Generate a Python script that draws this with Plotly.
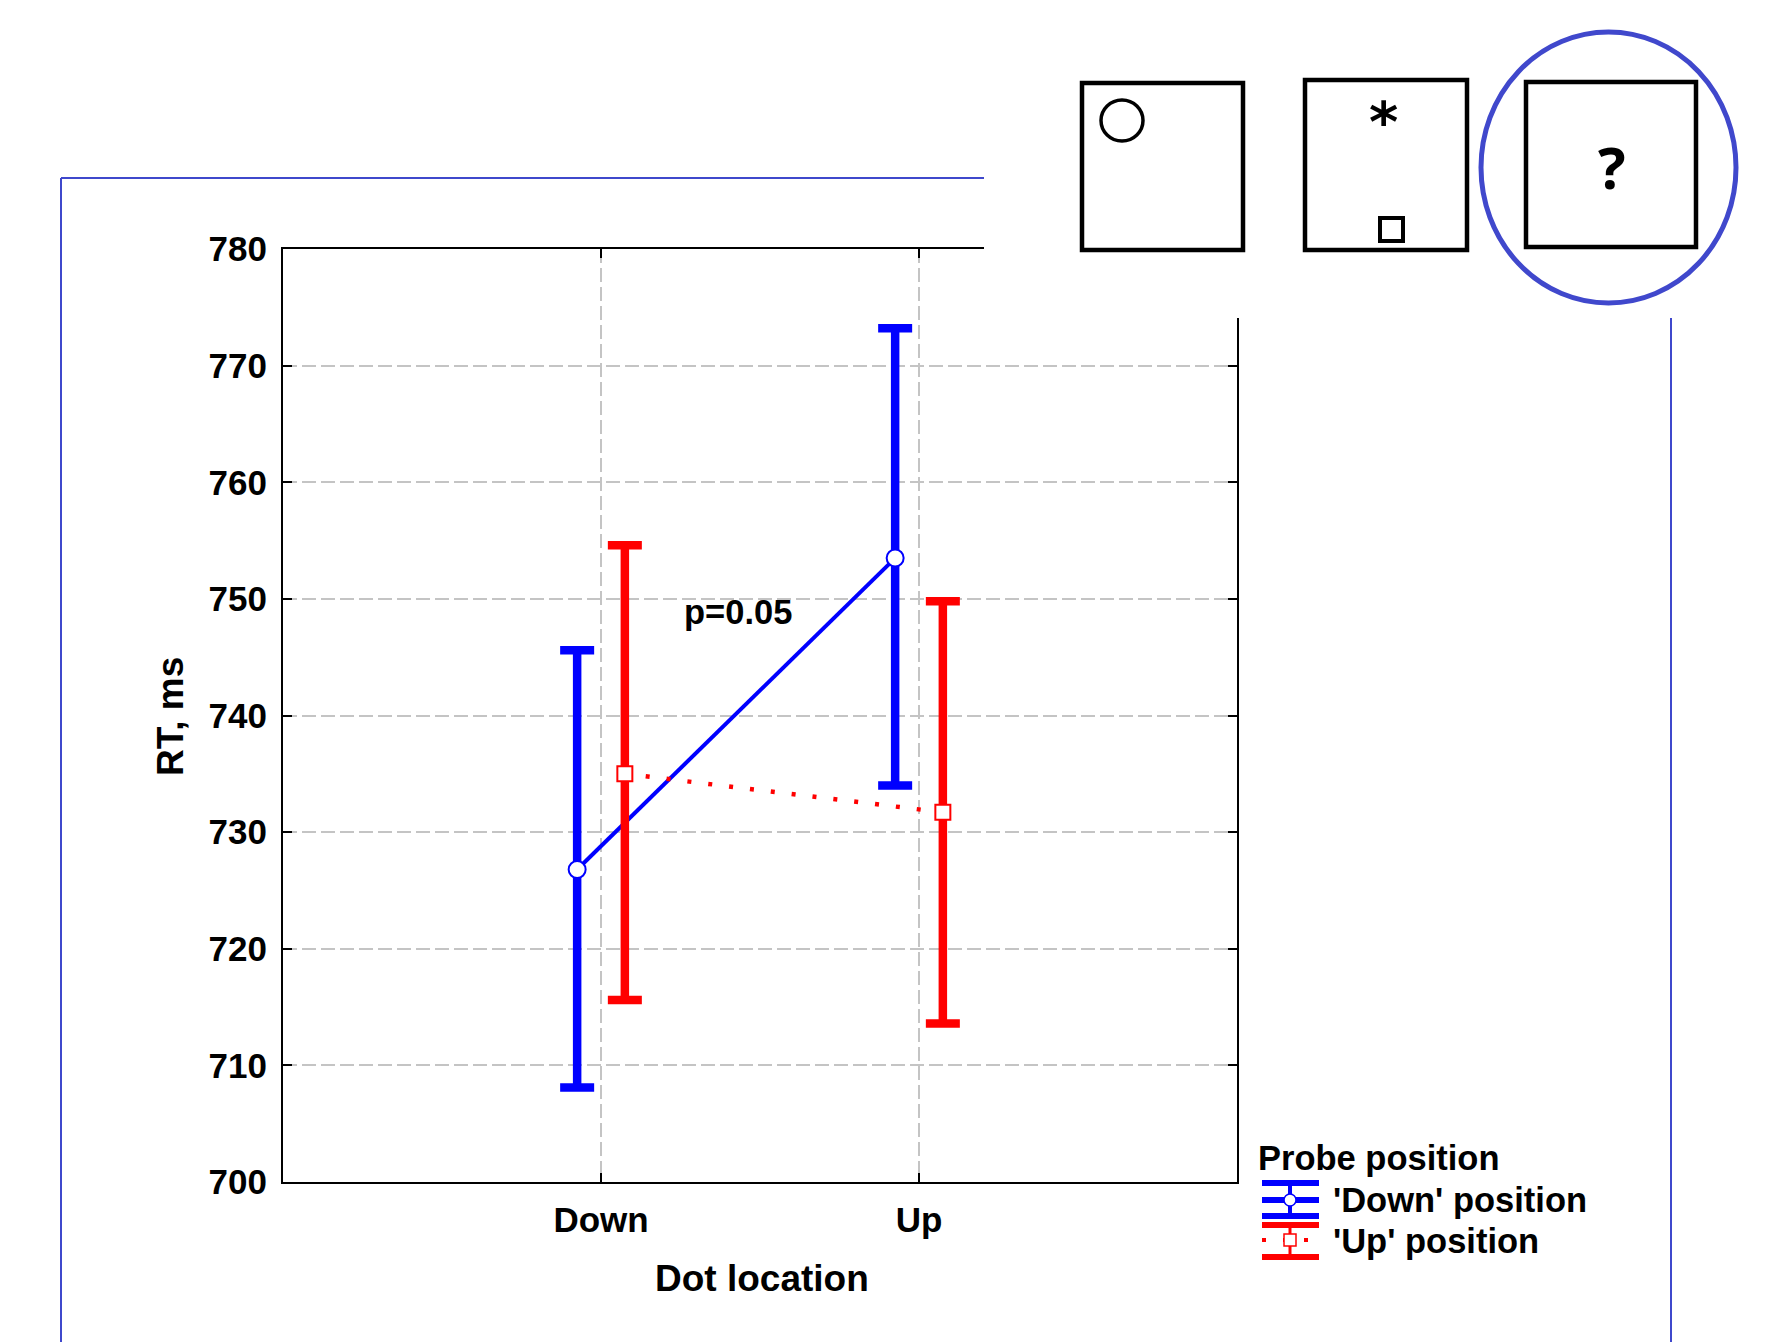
import plotly.graph_objects as go

# ---------------- data ----------------
categories = ["Down", "Up"]
cat_pos = [0, 1]
y_ticks = [700, 710, 720, 730, 740, 750, 760, 770, 780]

down_mean = [726.8, 753.5]
down_upper = [745.6, 773.2]
down_lower = [708.1, 734.0]

up_mean = [735.0, 731.7]
up_upper = [754.6, 749.8]
up_lower = [715.6, 713.6]

series_names = ["'Down' position", "'Up' position"]
legend_title = "Probe position"
x_title = "Dot location"
y_title = "RT, ms"
p_label = "p=0.05"

# ---------------- layout geometry ----------------
W, H = 1781, 1342
OFF = 8  # page body margin
ML, MT = 283 - OFF, 249 - OFF
MR = W - (1237 - OFF)
MB = H - (1182 - OFF)
PW = W - ML - MR
PH = H - MT - MB


def PX(x):
    return (x - OFF - ML) / PW


def PY(y):
    return (H - MB - (y - OFF)) / PH


BLUE = "#0000FF"
RED = "#FF0000"
FRAME = "#3F48CC"
FONT = "Liberation Sans"
offset = 0.075

fig = go.Figure()

fig.add_trace(go.Scatter(
    x=[c - offset for c in cat_pos], y=down_mean, mode="lines+markers",
    name=series_names[0],
    line=dict(color=BLUE, width=4),
    marker=dict(symbol="circle", size=17, color="white", line=dict(color=BLUE, width=2)),
    error_y=dict(type="data", symmetric=False,
                 array=[u - m for u, m in zip(down_upper, down_mean)],
                 arrayminus=[m - l for m, l in zip(down_mean, down_lower)],
                 color=BLUE, thickness=8.5, width=17),
    showlegend=False,
))
fig.add_trace(go.Scatter(
    x=[c + offset for c in cat_pos], y=up_mean, mode="lines+markers",
    name=series_names[1],
    line=dict(color=RED, width=4.5, dash="4px,17px"),
    marker=dict(symbol="square", size=15, color="white", line=dict(color=RED, width=2)),
    error_y=dict(type="data", symmetric=False,
                 array=[u - m for u, m in zip(up_upper, up_mean)],
                 arrayminus=[m - l for m, l in zip(up_mean, up_lower)],
                 color=RED, thickness=8.5, width=17),
    showlegend=False,
))

axis_font = dict(family=FONT, size=35, color="black", weight="bold")
text_font = dict(family=FONT, size=34.5, color="black", weight="bold")
title_font = dict(family=FONT, size=37, color="black", weight="bold")

fig.update_layout(
    width=W, height=H,
    margin=dict(l=ML, r=MR, t=MT, b=MB),
    paper_bgcolor="white", plot_bgcolor="white",
    showlegend=False,
    xaxis=dict(
        range=[-1, 2], tickmode="array", tickvals=cat_pos, ticktext=categories,
        showline=True, linecolor="black", linewidth=2, mirror="ticks",
        ticks="inside", ticklen=9, tickwidth=2, tickcolor="black",
        showgrid=True, gridcolor="#C4C4C4", gridwidth=1.5, griddash="14px,5px",
        zeroline=False, tickfont=axis_font, ticklabelstandoff=6,
    ),
    yaxis=dict(
        range=[700, 780], tickmode="array", tickvals=y_ticks,
        showline=True, linecolor="black", linewidth=2, mirror="ticks",
        ticks="inside", ticklen=9, tickwidth=2, tickcolor="black",
        showgrid=True, gridcolor="#C4C4C4", gridwidth=1.5, griddash="14px,5px",
        zeroline=False, tickfont=axis_font, ticklabelstandoff=7,
    ),
)

shapes = []
ann = []

# white cover over the top-right of the chart (inset panel)
shapes.append(dict(type="rect", xref="paper", yref="paper",
                   x0=PX(984), x1=PX(W + 20), y0=PY(318), y1=PY(-20),
                   fillcolor="white", line=dict(width=0), layer="above"))

# blue frame
for (x0, y0, x1, y1) in [(61, 178, 984, 178), (61, 178, 61, H + 10), (1671, 318, 1671, H + 10)]:
    shapes.append(dict(type="line", xref="paper", yref="paper",
                       x0=PX(x0), y0=PY(y0), x1=PX(x1), y1=PY(y1),
                       line=dict(color=FRAME, width=2), layer="above"))

# inset boxes
for (x0, y0, x1, y1) in [(1082, 83, 1243, 250), (1305, 80, 1467, 250), (1526, 82, 1696, 247)]:
    shapes.append(dict(type="rect", xref="paper", yref="paper",
                       x0=PX(x0), y0=PY(y0), x1=PX(x1), y1=PY(y1),
                       fillcolor="white", line=dict(color="black", width=4.5), layer="above"))
# circle in box 1
shapes.append(dict(type="circle", xref="paper", yref="paper",
                   x0=PX(1101), x1=PX(1143), y0=PY(100), y1=PY(141),
                   line=dict(color="black", width=3.5), layer="above"))
# small square in box 2
shapes.append(dict(type="rect", xref="paper", yref="paper",
                   x0=PX(1380), x1=PX(1403), y0=PY(218), y1=PY(241),
                   line=dict(color="black", width=4), layer="above"))
# ellipse around box 3
shapes.append(dict(type="circle", xref="paper", yref="paper",
                   x0=PX(1481), x1=PX(1736), y0=PY(32), y1=PY(303),
                   line=dict(color="#4048CC", width=5), layer="above"))

ann.append(dict(text="<b>*</b>", xref="paper", yref="paper", x=PX(1383), y=PY(122),
                showarrow=False, font=dict(family="DejaVu Sans", size=56, color="black"),
                xanchor="center", yanchor="middle"))
ann.append(dict(text="<b>?</b>", xref="paper", yref="paper", x=PX(1612), y=PY(167),
                showarrow=False, font=dict(family="Open Sans", size=58, color="black"),
                xanchor="center", yanchor="middle"))

# axis titles
ann.append(dict(text=y_title, xref="paper", yref="paper", x=PX(170), y=PY(717),
                showarrow=False, textangle=-90, font=title_font,
                xanchor="center", yanchor="middle"))
ann.append(dict(text=x_title, xref="paper", yref="paper", x=PX(762), y=PY(1278),
                showarrow=False, font=title_font,
                xanchor="center", yanchor="middle"))

# p-value label
ann.append(dict(text=p_label, x=0.43, y=748.9, xref="x", yref="y", showarrow=False,
                font=text_font, xanchor="center", yanchor="middle"))

# custom legend
ann.append(dict(text=legend_title, xref="paper", yref="paper", x=PX(1256), y=PY(1158),
                showarrow=False, font=text_font, xanchor="left", yanchor="middle"))
ann.append(dict(text=series_names[0], xref="paper", yref="paper", x=PX(1331), y=PY(1200),
                showarrow=False, font=text_font, xanchor="left", yanchor="middle"))
ann.append(dict(text=series_names[1], xref="paper", yref="paper", x=PX(1331), y=PY(1241),
                showarrow=False, font=text_font, xanchor="left", yanchor="middle"))


def hbar(x0, x1, y, color, w, dash="solid"):
    shapes.append(dict(type="line", xref="paper", yref="paper",
                       x0=PX(x0), x1=PX(x1), y0=PY(y), y1=PY(y),
                       line=dict(color=color, width=w, dash=dash), layer="above"))


def vbar(x, y0, y1, color, w):
    shapes.append(dict(type="line", xref="paper", yref="paper",
                       x0=PX(x), x1=PX(x), y0=PY(y0), y1=PY(y1),
                       line=dict(color=color, width=w), layer="above"))


# blue legend symbol
hbar(1262, 1319, 1183, BLUE, 6)
hbar(1262, 1319, 1200, BLUE, 6)
hbar(1262, 1319, 1216, BLUE, 6)
vbar(1290, 1183, 1216, BLUE, 4)
shapes.append(dict(type="circle", xref="paper", yref="paper",
                   x0=PX(1284), x1=PX(1296), y0=PY(1194), y1=PY(1206),
                   fillcolor="white", line=dict(color=BLUE, width=1.5), layer="above"))
# red legend symbol
hbar(1262, 1319, 1225, RED, 6)
hbar(1262, 1319, 1257, RED, 6)
vbar(1290, 1225, 1257, RED, 3)
hbar(1262, 1319, 1240, RED, 4, dash="4px,17px")
shapes.append(dict(type="rect", xref="paper", yref="paper",
                   x0=PX(1284), x1=PX(1296), y0=PY(1234), y1=PY(1246),
                   fillcolor="white", line=dict(color=RED, width=1.5), layer="above"))

fig.update_layout(shapes=shapes, annotations=ann)

fig.write_html("out.html")
